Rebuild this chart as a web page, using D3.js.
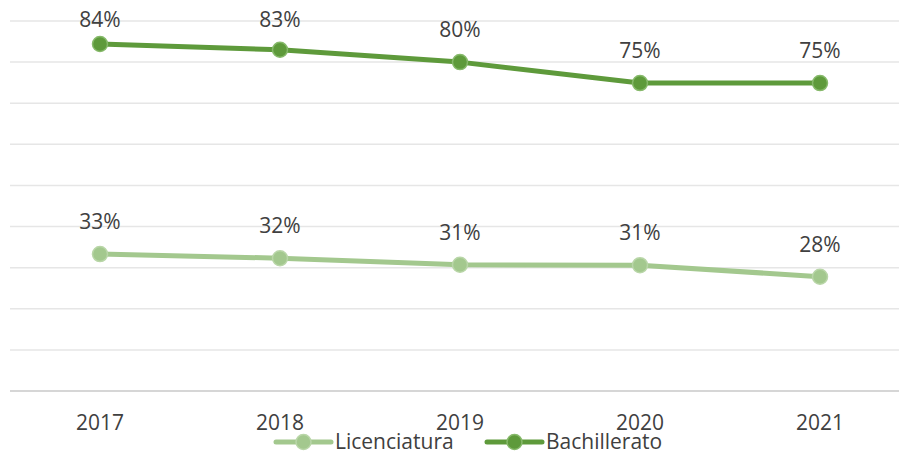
<!DOCTYPE html>
<html>
<head>
<meta charset="utf-8">
<script src="https://cdn.jsdelivr.net/npm/d3@7"></script>
<style>
  body { margin: 0; background: #fff; }
  text { font-family: "Open Sans", "Noto Sans", sans-serif; fill: #404040; }
</style>
</head>
<body>
<div id="chart"></div>
<script>
const years = ['2017', '2018', '2019', '2020', '2021']
const licenciatura = [0.333, 0.323, 0.307, 0.306, 0.278]
const bachillerato = [0.844, 0.830, 0.800, 0.749, 0.749]
const yTicks = [0, 0.1, 0.2, 0.3, 0.4, 0.5, 0.6, 0.7, 0.8, 0.9]

const series = [
  { name: 'Licenciatura', values: licenciatura, color: '#A3C88E', ring: '#B9D6A8' },
  { name: 'Bachillerato', values: bachillerato, color: '#5E9A3B', ring: '#86B96A' }
]

const width = 899, height = 455
const svg = d3.select('#chart').append('svg')
  .attr('width', width)
  .attr('height', height)

const x = d3.scalePoint().domain(years).range([10, 910]).padding(0.5)
const y = d3.scaleLinear().domain([0, 0.9]).range([391, 21])

// gridlines
svg.append('g')
  .selectAll('line')
  .data(yTicks)
  .enter()
  .append('line')
  .attr('x1', 10)
  .attr('x2', width)
  .attr('y1', d => y(d))
  .attr('y2', d => y(d))
  .attr('stroke', d => d === 0 ? '#C8C8C8' : '#E6E6E6')
  .attr('stroke-width', 1.5)

// year labels
svg.append('g')
  .selectAll('text')
  .data(years)
  .enter()
  .append('text')
  .attr('x', d => x(d))
  .attr('y', 430)
  .attr('text-anchor', 'middle')
  .style('font-size', '21px')
  .text(d => d)

const line = d3.line()
  .x((d, i) => x(years[i]))
  .y(d => y(d))

series.forEach(s => {
  const g = svg.append('g')
  g.append('path')
    .datum(s.values)
    .attr('d', line)
    .attr('fill', 'none')
    .attr('stroke', s.color)
    .attr('stroke-width', 5)
    .attr('stroke-linejoin', 'round')
    .attr('stroke-linecap', 'round')

  g.selectAll('circle')
    .data(s.values)
    .enter()
    .append('circle')
    .attr('cx', (d, i) => x(years[i]))
    .attr('cy', d => y(d))
    .attr('r', 7.5)
    .attr('fill', s.color)
    .attr('stroke', s.ring)
    .attr('stroke-width', 1.5)

  g.selectAll('text')
    .data(s.values)
    .enter()
    .append('text')
    .attr('x', (d, i) => x(years[i]))
    .attr('y', d => Math.max(y(d) - 25, 27))
    .attr('text-anchor', 'middle')
    .style('font-size', '21px')
    .text(d => Math.round(d * 100) + '%')
})

// legend
const legendX = [276, 487]
const legend = svg.append('g')
series.forEach((s, i) => {
  const lx = legendX[i]
  legend.append('line')
    .attr('x1', lx).attr('x2', lx + 55)
    .attr('y1', 442).attr('y2', 442)
    .attr('stroke', s.color)
    .attr('stroke-width', 5)
    .attr('stroke-linecap', 'round')
  legend.append('circle')
    .attr('cx', lx + 27.5).attr('cy', 442)
    .attr('r', 7.5)
    .attr('fill', s.color)
    .attr('stroke', s.ring)
    .attr('stroke-width', 1.5)
  legend.append('text')
    .attr('x', lx + 59)
    .attr('y', 449)
    .style('font-size', '21px')
    .text(s.name)
})
</script>
</body>
</html>
